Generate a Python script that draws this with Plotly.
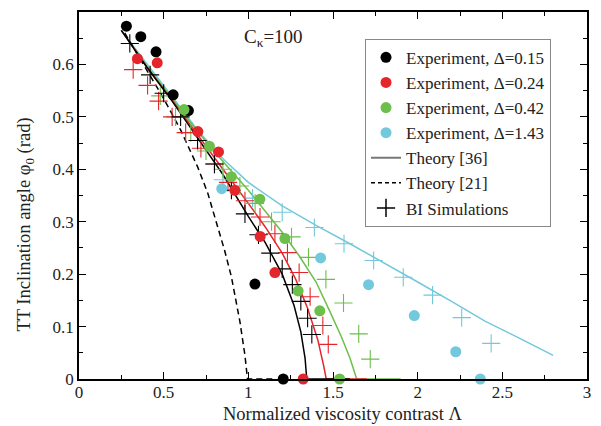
import plotly.graph_objects as go

# ---------------- data ----------------
# Experiment points
exp015_x = [0.28, 0.365, 0.455, 0.556, 0.646, 1.039, 1.206]
exp015_y = [0.673, 0.653, 0.624, 0.542, 0.512, 0.181, 0.0]

exp024_x = [0.345, 0.462, 0.702, 0.824, 0.92, 1.07, 1.157, 1.324]
exp024_y = [0.611, 0.603, 0.472, 0.433, 0.36, 0.272, 0.203, 0.0]

exp042_x = [0.62, 0.77, 0.9, 1.068, 1.216, 1.294, 1.422, 1.539]
exp042_y = [0.514, 0.444, 0.386, 0.343, 0.268, 0.168, 0.13, 0.0]

exp143_x = [0.843, 1.427, 1.71, 1.98, 2.225, 2.37]
exp143_y = [0.363, 0.231, 0.18, 0.121, 0.052, 0.0]

# Theory [36] (solid)
th36_015_x = [0.25, 0.4, 0.55, 0.7, 0.85, 1.0, 1.1, 1.2, 1.27, 1.31, 1.335, 1.345, 1.6]
th36_015_y = [0.665, 0.595, 0.53, 0.46, 0.39, 0.31, 0.26, 0.2, 0.14, 0.09, 0.04, 0.0, 0.0]

th36_024_x = [0.25, 0.4, 0.55, 0.7, 0.85, 1.0, 1.1, 1.2, 1.28, 1.35, 1.41, 1.445, 1.46, 1.7]
th36_024_y = [0.665, 0.595, 0.532, 0.465, 0.4, 0.335, 0.29, 0.24, 0.19, 0.135, 0.075, 0.025, 0.0, 0.0]

th36_042_x = [0.25, 0.4, 0.55, 0.7, 0.85, 1.0, 1.1, 1.2, 1.3, 1.4, 1.48, 1.55, 1.6, 1.64, 1.9]
th36_042_y = [0.665, 0.597, 0.535, 0.472, 0.415, 0.36, 0.32, 0.28, 0.235, 0.185, 0.13, 0.08, 0.04, 0.0, 0.0]

th36_143_x = [0.25, 0.5, 0.7, 0.85, 1.0, 1.2, 1.4, 1.6, 1.8, 2.0, 2.2, 2.4, 2.6, 2.8]
th36_143_y = [0.665, 0.56, 0.475, 0.42, 0.375, 0.33, 0.293, 0.258, 0.222, 0.185, 0.148, 0.11, 0.078, 0.045]

# Theory [21] (dashed)
th21_x = [0.27, 0.4, 0.5, 0.6, 0.7, 0.76, 0.81, 0.86, 0.9, 0.95, 0.98, 0.995, 1.15]
th21_y = [0.66, 0.59, 0.535, 0.475, 0.405, 0.355, 0.3, 0.245, 0.195, 0.11, 0.045, 0.0, 0.0]

# BI simulations (crosses)
bi015_x = [0.3, 0.42, 0.5, 0.6, 0.7, 0.8, 0.9, 0.98, 1.06, 1.13, 1.2, 1.26, 1.31, 1.35, 1.375]
bi015_y = [0.64, 0.58, 0.545, 0.5, 0.455, 0.41, 0.36, 0.315, 0.275, 0.24, 0.21, 0.18, 0.148, 0.116, 0.085]

bi024_x = [0.32, 0.405, 0.47, 0.55, 0.63, 0.72, 0.8, 0.88, 0.98, 1.069, 1.157, 1.231, 1.3, 1.365, 1.44, 1.472]
bi024_y = [0.59, 0.56, 0.53, 0.5, 0.47, 0.44, 0.41, 0.375, 0.34, 0.309, 0.277, 0.241, 0.203, 0.157, 0.102, 0.066]

bi042_x = [0.48, 0.57, 0.66, 0.75, 0.85, 0.95, 1.04, 1.137, 1.255, 1.355, 1.458, 1.562, 1.652, 1.72]
bi042_y = [0.54, 0.5, 0.47, 0.435, 0.4, 0.368, 0.335, 0.3, 0.271, 0.232, 0.19, 0.145, 0.086, 0.038]

bi143_x = [0.85, 1.025, 1.2, 1.39, 1.565, 1.74, 1.915, 2.088, 2.26, 2.434]
bi143_y = [0.38, 0.345, 0.318, 0.289, 0.258, 0.226, 0.194, 0.16, 0.117, 0.068]

x_ticks = [0, 0.5, 1, 1.5, 2, 2.5, 3]
x_ticklabels = ["0", "0.5", "1", "1.5", "2", "2.5", "3"]
y_ticks = [0, 0.1, 0.2, 0.3, 0.4, 0.5, 0.6]
y_ticklabels = ["0", "0.1", "0.2", "0.3", "0.4", "0.5", "0.6"]

labels = ["Experiment, Δ=0.15", "Experiment, Δ=0.24", "Experiment, Δ=0.42", "Experiment, Δ=1.43"]

# ---------------- styles ----------------
BLACK = "#000000"
RED = "#e4262c"
GREEN = "#6cbf4a"
CYAN = "#72c8dc"
FONT = "Liberation Serif"
TXT = "#222222"

fig = go.Figure()

# theory [36] solid lines
for xs, ys, c in [(th36_143_x, th36_143_y, CYAN), (th36_042_x, th36_042_y, GREEN),
                  (th36_024_x, th36_024_y, RED), (th36_015_x, th36_015_y, BLACK)]:
    fig.add_trace(go.Scatter(x=xs, y=ys, mode="lines", line=dict(color=c, width=1.5),
                             showlegend=False, cliponaxis=False, hoverinfo="skip"))

# theory [21] dashed
fig.add_trace(go.Scatter(x=th21_x, y=th21_y, mode="lines",
                         line=dict(color=BLACK, width=1.5, dash="6px,4px"),
                         showlegend=False, cliponaxis=False))

# BI simulation crosses
for xs, ys, c in [(bi143_x, bi143_y, CYAN), (bi042_x, bi042_y, GREEN),
                  (bi024_x, bi024_y, RED), (bi015_x, bi015_y, BLACK)]:
    fig.add_trace(go.Scatter(x=xs, y=ys, mode="markers",
                             marker=dict(symbol="cross-thin", size=13, line=dict(color=c, width=1.1)),
                             showlegend=False, cliponaxis=False))

# experiments dots
for xs, ys, c, lab in [(exp015_x, exp015_y, BLACK, labels[0]), (exp024_x, exp024_y, RED, labels[1]),
                       (exp042_x, exp042_y, GREEN, labels[2]), (exp143_x, exp143_y, CYAN, labels[3])]:
    fig.add_trace(go.Scatter(x=xs, y=ys, mode="markers", name=lab,
                             marker=dict(symbol="circle", size=11, color=c),
                             cliponaxis=False))

# legend-only entries
fig.add_trace(go.Scatter(x=[None], y=[None], mode="lines", name="Theory [36]",
                         line=dict(color="#777777", width=2)))
fig.add_trace(go.Scatter(x=[None], y=[None], mode="lines", name="Theory [21]",
                         line=dict(color=BLACK, width=1.5, dash="4px,3px")))
fig.add_trace(go.Scatter(x=[None], y=[None], mode="markers", name="BI Simulations",
                         marker=dict(symbol="cross-thin", size=13, line=dict(color=BLACK, width=1.5))))

axis_common = dict(showline=True, linecolor="black", linewidth=1.5, mirror="allticks",
                   ticks="inside", ticklen=7, tickwidth=1.2, tickcolor="black",
                   showgrid=False, zeroline=False,
                   tickfont=dict(family=FONT, size=17, color=TXT))

fig.update_xaxes(range=[0, 3], tickvals=x_ticks, ticktext=x_ticklabels,
                 minor=dict(dtick=0.25, ticklen=4, ticks="inside", tickcolor="black"),
                 ticklabelstandoff=-3,
                 **axis_common)
fig.update_yaxes(range=[0, 0.7], tickvals=y_ticks, ticktext=y_ticklabels,
                 minor=dict(dtick=0.05, ticklen=4, ticks="inside", tickcolor="black"),
                 **axis_common)

# axis titles as annotations (to match placement)
fig.add_annotation(x=0.52, y=-0.095, xref="paper", yref="paper", xanchor="center", yanchor="middle",
                   text="Normalized viscosity contrast Λ", showarrow=False,
                   font=dict(family=FONT, size=18.5, color=TXT))
fig.add_annotation(x=-0.105, y=0.42, xref="paper", yref="paper", xanchor="center", yanchor="middle",
                   text="TT Inclination angle φ<sub>0</sub> (rad)", showarrow=False, textangle=-90,
                   font=dict(family=FONT, size=18.5, color=TXT))

fig.add_annotation(x=0.32, y=0.93, xref="paper", yref="paper", xanchor="left", yanchor="middle",
                   text="C<sub>κ</sub>=100", showarrow=False,
                   font=dict(family=FONT, size=19, color=TXT))

# the page body has an 8px default margin, so the figure is sized to fit inside the window
fig.update_layout(
    width=593, height=418,
    margin=dict(l=71, r=14, t=2, b=47),
    plot_bgcolor="white", paper_bgcolor="white",
    legend=dict(x=0.563, y=0.927, xanchor="left", yanchor="top",
                bordercolor="#888888", borderwidth=1, bgcolor="white",
                font=dict(family=FONT, size=17, color=TXT),
                tracegroupgap=0, itemwidth=30),
)

fig.write_html("out.html")
